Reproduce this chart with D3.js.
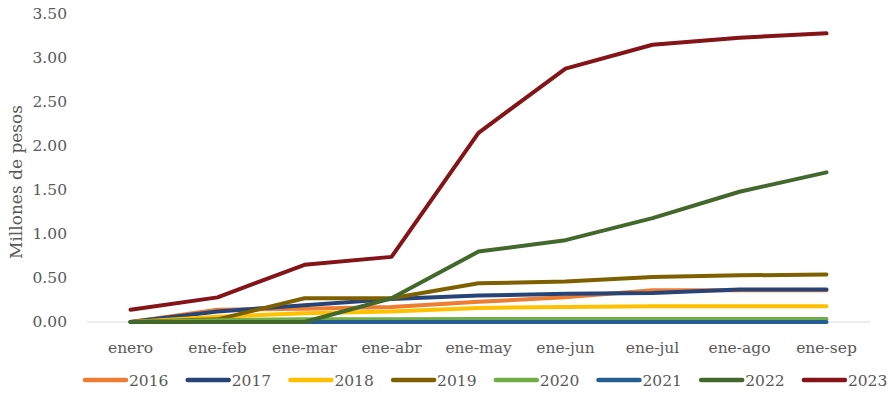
<!DOCTYPE html>
<html>
<head>
<meta charset="utf-8">
<script src="https://cdn.jsdelivr.net/npm/d3@7/dist/d3.min.js"></script>
<style>
  html, body { margin: 0; padding: 0; background: #fff; }
  svg text { font-family: "DejaVu Serif", serif; fill: #595959; }
</style>
</head>
<body>
<svg id="chart" width="892" height="393"></svg>
<script>
// Cumulative amounts, January through each month (millions of pesos)
const months = ["enero", "ene-feb", "ene-mar", "ene-abr", "ene-may", "ene-jun", "ene-jul", "ene-ago", "ene-sep"];
const years = ["2016", "2017", "2018", "2019", "2020", "2021", "2022", "2023"];
const values2016 = [0.00, 0.14, 0.15, 0.17, 0.23, 0.28, 0.36, 0.36, 0.36];
const values2017 = [0.00, 0.12, 0.19, 0.26, 0.30, 0.32, 0.33, 0.37, 0.37];
const values2018 = [0.00, 0.06, 0.10, 0.12, 0.16, 0.17, 0.18, 0.18, 0.18];
const values2019 = [0.00, 0.03, 0.27, 0.27, 0.44, 0.46, 0.51, 0.53, 0.54];
const values2020 = [0.00, 0.02, 0.03, 0.03, 0.035, 0.035, 0.035, 0.035, 0.035];
const values2021 = [0.00, 0.00, 0.00, 0.00, 0.00, 0.00, 0.00, 0.00, 0.00];
const values2022 = [0.00, 0.00, 0.00, 0.27, 0.80, 0.93, 1.18, 1.48, 1.70];
const values2023 = [0.14, 0.28, 0.65, 0.74, 2.15, 2.88, 3.15, 3.23, 3.28];
const yTicks = [0, 0.5, 1.0, 1.5, 2.0, 2.5, 3.0, 3.5];
const colors = ["#ED7D31", "#264478", "#FFC000", "#7F6000", "#70AD47", "#255E91", "#43682B", "#841417"];

const seriesValues = [values2016, values2017, values2018, values2019, values2020, values2021, values2022, values2023];
const series = years.map((y, i) => ({ year: y, color: colors[i], values: seriesValues[i] }));

const svg = d3.select("#chart");
const plot = { left: 87, right: 870, top: 14, bottom: 322 };

const x = d3.scaleBand().domain(months).range([plot.left, plot.right]);
const y = d3.scaleLinear().domain([0, 3.5]).range([plot.bottom, plot.top]);

// Baseline at zero
svg.append("line")
  .attr("x1", plot.left).attr("x2", plot.right)
  .attr("y1", y(0)).attr("y2", y(0))
  .attr("stroke", "#d9d9d9").attr("stroke-width", 1.2);

// Y axis labels
const yAxis = d3.axisLeft(y).tickValues(yTicks).tickFormat(d3.format(".2f")).tickSize(0).tickPadding(0);
const gy = svg.append("g").attr("transform", `translate(67,0)`).call(yAxis);
gy.select(".domain").remove();
gy.selectAll("text").attr("font-size", 15.5).style("font-family", "DejaVu Serif, serif").attr("fill", "#595959");

// X axis labels
const xAxis = d3.axisBottom(x).tickSize(0).tickPadding(0);
const gx = svg.append("g").attr("transform", `translate(0,${y(0) + 20})`).call(xAxis);
gx.select(".domain").remove();
gx.selectAll("text").attr("font-size", 15.5).style("font-family", "DejaVu Serif, serif").attr("fill", "#595959");

// Axis title
svg.append("text")
  .attr("transform", `translate(22,${(plot.top + plot.bottom) / 2 + 14}) rotate(-90)`)
  .attr("text-anchor", "middle")
  .attr("font-size", 17)
  .text("Millones de pesos");

// Lines
const line = d3.line()
  .x((d, i) => x(months[i]) + x.bandwidth() / 2)
  .y(d => y(d));

svg.append("g").selectAll("path")
  .data(series)
  .join("path")
  .attr("d", d => line(d.values))
  .attr("fill", "none")
  .attr("stroke", d => d.color)
  .attr("stroke-width", 4)
  .attr("stroke-linecap", "round")
  .attr("stroke-linejoin", "round");

// Legend
const legend = svg.append("g").attr("transform", "translate(0,380)");
const items = legend.selectAll("g")
  .data(series)
  .join("g")
  .attr("transform", (d, i) => `translate(${85 + i * 102.7},0)`);
items.append("line")
  .attr("x1", 0).attr("x2", 41)
  .attr("y1", 0).attr("y2", 0)
  .attr("stroke", d => d.color)
  .attr("stroke-width", 4.5)
  .attr("stroke-linecap", "round");
items.append("text")
  .attr("x", 44).attr("y", 6)
  .attr("font-size", 15.5)
  .text(d => d.year);
</script>
</body>
</html>
